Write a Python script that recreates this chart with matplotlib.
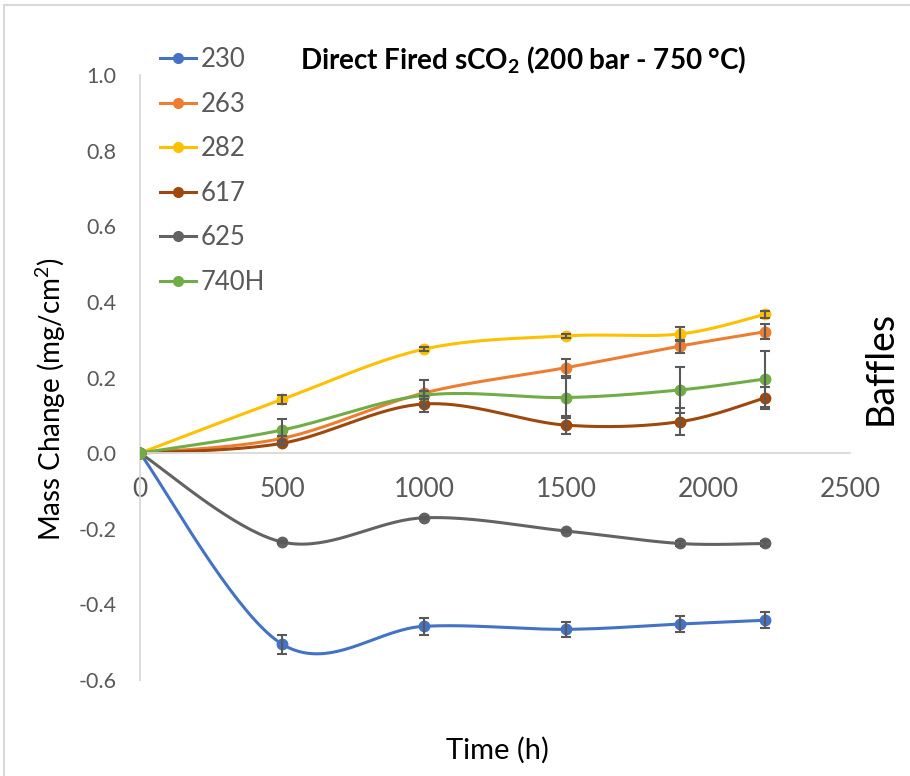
import matplotlib
matplotlib.use("Agg")
import matplotlib.pyplot as plt
from matplotlib.lines import Line2D
import numpy as np

# data
time = [0, 500, 1000, 1500, 1900, 2200]
m230 = [0, -0.505, -0.458, -0.466, -0.452, -0.442]
e230 = [0, 0.025, 0.022, 0.020, 0.022, 0.021]
m263 = [0, 0.039, 0.159, 0.226, 0.283, 0.321]
e263 = [0, 0.006, 0.035, 0.023, 0.017, 0.020]
m282 = [0, 0.142, 0.275, 0.310, 0.315, 0.367]
e282 = [0, 0.012, 0.005, 0.005, 0.018, 0.010]
m617 = [0, 0.026, 0.130, 0.074, 0.083, 0.146]
e617 = [0, 0.005, 0.022, 0.024, 0.036, 0.030]
m625 = [0, -0.235, -0.171, -0.206, -0.239, -0.239]
e625 = [0, 0.003, 0.003, 0.003, 0.006, 0.006]
m740 = [0, 0.061, 0.153, 0.147, 0.167, 0.196]
e740 = [0, 0.028, 0.010, 0.053, 0.062, 0.073]

labels = ["230", "263", "282", "617", "625", "740H"]
series = [m230, m263, m282, m617, m625, m740]
errors = [e230, e263, e282, e617, e625, e740]
colors = ["#4472C4", "#ED7D31", "#FFC000", "#9E480E", "#636363", "#70AD47"]

plt.rcParams["font.family"] = ["Lato", "DejaVu Sans"]
plt.rcParams["mathtext.fontset"] = "custom"
plt.rcParams["mathtext.rm"] = "Lato"
plt.rcParams["mathtext.bf"] = "Lato:bold"


def smooth(x, y, n=40):
    # excel-like smoothed line (catmull-rom bezier)
    x = np.asarray(x, float)
    y = np.asarray(y, float)
    k = len(x)
    t = np.linspace(0, 1, n)
    xs, ys = [], []
    for i in range(k - 1):
        a, b = max(i - 1, 0), min(i + 2, k - 1)
        p0 = np.array([x[i], y[i]])
        p3 = np.array([x[i + 1], y[i + 1]])
        p1 = p0 + (p3 - np.array([x[a], y[a]])) / 6
        p2 = p3 - (np.array([x[b], y[b]]) - p0) / 6
        c = ((1 - t) ** 3)[:, None] * p0 + (3 * (1 - t) ** 2 * t)[:, None] * p1 \
            + (3 * (1 - t) * t ** 2)[:, None] * p2 + (t ** 3)[:, None] * p3
        xs.append(c[:, 0])
        ys.append(c[:, 1])
    return np.concatenate(xs), np.concatenate(ys)


fig = plt.figure(figsize=(9.1, 7.76), dpi=100)
ax = fig.add_axes([140 / 910, 1 - 680 / 776, 710 / 910, 605 / 776])

handles = []
for m, e, c, lab in zip(series, errors, colors, labels):
    sx, sy = smooth(time, m)
    ax.plot(sx, sy, color=c, lw=2.2, zorder=2)
    ax.plot(time, m, "o", color=c, ms=7.5, zorder=3)
    ax.errorbar(time[1:], m[1:], yerr=e[1:], fmt="none", ecolor="#595959",
                elinewidth=1.5, capsize=3.5, capthick=1.5, zorder=4)
    handles.append(Line2D([], [], color=c, lw=2.2, marker="o", ms=7))

ax.set_xlim(0, 2500)
ax.set_ylim(-0.6, 1.0)
ax.set_xticks(np.arange(0, 2501, 500))
ax.set_yticks(np.arange(-0.6, 1.01, 0.2))
ax.set_yticklabels(["%.1f" % v for v in np.arange(-0.6, 1.01, 0.2)])
ax.spines["top"].set_visible(False)
ax.spines["right"].set_visible(False)
ax.spines["bottom"].set_position(("data", 0))
for s in ["left", "bottom"]:
    ax.spines[s].set_color("#d9d9d9")
    ax.spines[s].set_linewidth(1.3)
ax.tick_params(axis="x", length=0, pad=17, labelsize=19, labelcolor="#595959")
ax.tick_params(axis="y", length=0, pad=17, labelsize=15.5, labelcolor="#595959")

fig.text(51 / 910, 1 - 399 / 776, "Mass Change (mg/cm$^2$)", rotation=90,
         ha="center", va="center", fontsize=20, color="black")
fig.text(497 / 910, 1 - 750 / 776, "Time (h)", ha="center", va="center",
         fontsize=21, color="black")
fig.text(523 / 910, 1 - 60 / 776, r"Direct Fired sCO$_\mathbf{2}$ (200 bar - 750 °C)",
         ha="center", va="center", fontsize=20, fontweight="bold", color="black")
fig.text(881 / 910, 1 - 368 / 776, "Baffles", rotation=90, ha="center", va="center",
         fontsize=27, color="black")

leg = fig.legend(handles, labels, loc="upper left", bbox_to_anchor=(160 / 910, 1 - 47 / 776),
                 frameon=False, fontsize=18.5, labelcolor="#595959", handlelength=1.4,
                 handletextpad=0.2, labelspacing=0.76, borderpad=0, borderaxespad=0)

# chart border remnants
fig.add_artist(Line2D([4 / 910, 4 / 910], [0, 1 - 5 / 776], color="#d9d9d9", lw=1.5))
fig.add_artist(Line2D([4 / 910, 1], [1 - 5 / 776, 1 - 5 / 776], color="#d9d9d9", lw=1.5))

fig.savefig("out.png", dpi=100)
